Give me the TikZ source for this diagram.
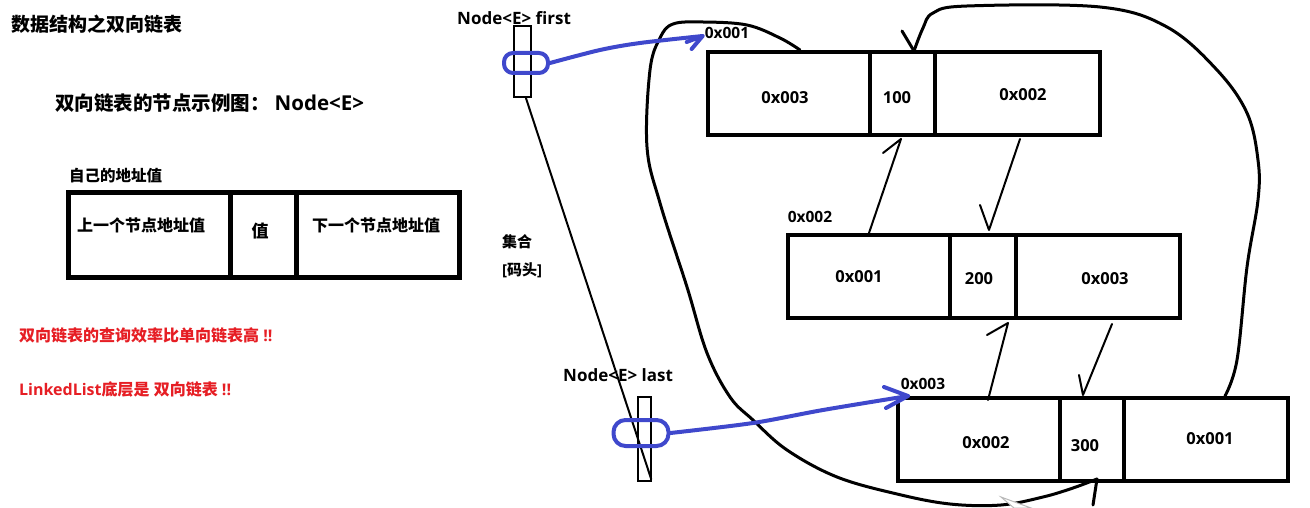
\documentclass[tikz,border=0pt]{standalone}
\usepackage{fontspec}
\setmainfont{Open Sans}
\newfontfamily\cjk{Noto Sans CJK SC}
\usetikzlibrary{calc}
\definecolor{inkblue}{RGB}{63,72,204}
\definecolor{inkred}{RGB}{230,30,36}
\newcommand\fsz[1]{\fontsize{#1}{#1}\selectfont}

\begin{document}
\begin{tikzpicture}[x=1pt,y=-1pt,
  cell/.style={draw, line width=4, inner sep=0, minimum height=83},
  bigcell/.style={draw, line width=5, inner sep=0, minimum height=84},
  ptr/.style={draw, line width=2.5, inner sep=0},
  lbl/.style={inner sep=0, font=\bfseries\fsz{16.5}},
  tag/.style={inner sep=0, font=\bfseries\fsz{15.5}},
  wire/.style={line width=2, line cap=round, line join=round},
  loopline/.style={line width=3, line cap=round, line join=round},
  bluepen/.style={draw=inkblue, line width=4, line cap=round, line join=round},
]
\useasboundingbox[fill=white] (0,0) rectangle (1310,508);

% ---- headings ----
\node[anchor=west, inner sep=0, font=\bfseries\fsz{19}] (title) at (11,24) {\cjk 数据结构之双向链表};
\node[anchor=west, inner sep=0, font=\bfseries\fsz{19.5}] (sub) at (55,103)
  {{\cjk 双向链表的节点示例图：}\hspace{5pt}{\fsz{20.5}Node<E>}};

% ---- node layout legend ----
\node[anchor=west, inner sep=0, font=\bfseries\fsz{15.5}] (self) at (69,176) {\cjk 自己的地址值};
\node[bigcell, minimum width=162] (ka) at (149,235) {};
\node[bigcell, minimum width=66]  (kb) at (263,235) {};
\node[bigcell, minimum width=163] (kc) at (377.5,235) {};
\node[anchor=west, inner sep=0, font=\bfseries\fsz{16}] (kta) at (77,225) {\cjk 上一个节点地址值};
\node[inner sep=0, font=\bfseries\fsz{17}] (ktb) at (260,231) {\cjk 值};
\node[anchor=west, inner sep=0, font=\bfseries\fsz{16}] (ktc) at (312,225) {\cjk 下一个节点地址值};

% ---- notes ----
\node[anchor=west, inner sep=0, text=inkred, font=\bfseries\fsz{16}] (note1) at (19,335)
  {{\cjk 双向链表的查询效率比单向链表高} !!};
\node[anchor=west, inner sep=0, text=inkred, font=\bfseries\fsz{16}] (note2) at (19,389)
  {LinkedList{\cjk 底层是} {\cjk 双向链表} !!};

% ---- head / tail references ----
\node[anchor=west, inner sep=0, font=\bfseries\fsz{17}] (firstlbl) at (457,18) {Node<E> first};
\node[ptr, minimum width=17, minimum height=71] (first) at (522.5,61.5) {};
\node[anchor=west, inner sep=0, font=\bfseries\fsz{15}] (coll) at (502,242) {\cjk 集合};
\node[anchor=west, inner sep=0, font=\bfseries\fsz{15}] (dock) at (502,270) {[{\cjk 码头}]};
\node[anchor=west, inner sep=0, font=\bfseries\fsz{17}] (lastlbl) at (563,375) {Node<E> last};
\node[ptr, minimum width=13, minimum height=84] (last) at (644.5,439) {};
\draw[wire] ([xshift=3.5]first.south) -- ([xshift=-1,yshift=3]last.south east);

% ---- list node 0x001 ----
\node[cell, minimum width=162] (n1a) at (789,93.5) {};
\node[cell, minimum width=65]  (n1b) at (902.5,93.5) {};
\node[cell, minimum width=165] (n1c) at (1017.5,93.5) {};
\node[tag] (a1) at (727,33) {0x001};
\node[lbl] at (785,98) {0x003};
\node[lbl] at (897,98) {100};
\node[lbl] at (1023,95) {0x002};

% ---- list node 0x002 ----
\node[cell, minimum width=162] (n2a) at (869,276.5) {};
\node[cell, minimum width=66]  (n2b) at (983,276.5) {};
\node[cell, minimum width=164] (n2c) at (1098,276.5) {};
\node[tag] (a2) at (810,217) {0x002};
\node[lbl] at (859,277) {0x001};
\node[lbl] at (979,279) {200};
\node[lbl] at (1105,279) {0x003};

% ---- list node 0x003 ----
\node[cell, minimum width=162] (n3a) at (979,439.5) {};
\node[cell, minimum width=64]  (n3b) at (1092,439.5) {};
\node[cell, minimum width=164] (n3c) at (1206,439.5) {};
\node[tag] (a3) at (923,384) {0x003};
\node[lbl] at (986,443) {0x002};
\node[lbl] at (1085,446) {300};
\node[lbl] at (1210,439) {0x001};

% ---- prev / next links between neighbours ----
\draw[wire] (n2a.north) -- ([xshift=-1.5,yshift=-2]n1b.south) -- ++(-18,14);
\draw[wire] ([xshift=2.5,yshift=-2]n1c.south) -- ([xshift=6,yshift=3]n2b.north) -- ++(-9,-25);
\draw[wire] ([xshift=9,yshift=-4]n3a.north) -- ([xshift=25,yshift=-3]n2b.south) -- ++(-21,12);
\draw[wire] ([xshift=14,yshift=-4]n2c.south) -- ([xshift=-9,yshift=1]n3b.north) -- ++(-4,-20);

% ---- wrap-around links ----
\draw[loopline] plot[smooth, tension=0.6] coordinates {([xshift=19]n3c.north) (1237,360) (1247,267) (1258,200) (1258,160) (1247,113) (1217,70) (1167,27) (1100,7) (967,6) (933,13) (923,28) ([xshift=11.5,yshift=-1]n1b.north)};
\draw[loopline] ([xshift=11.5,yshift=-1]n1b.north) -- ++(-12,-20);

\draw[loopline] plot[smooth, tension=0.6] coordinates {([xshift=11]n1a.north) (780,38) (747,25) (703,22) (673,24) (660,38) (650,70) (647,147) (660,203) (687,287) (707,353) (730,397) (753,420) (787,450) (837,477) (897,494) (950,504) (1001,505) (1043,497) (1073,488) ([xshift=5,yshift=4]n3b.south)};
\draw[loopline] ([xshift=5,yshift=4]n3b.south) -- ++(-4,26);

% ---- head / tail pointers ----
\node[bluepen, rounded corners=9, minimum width=44, minimum height=20, inner sep=0] (e1) at (526,63) {};
\draw[bluepen] plot[smooth, tension=0.5] coordinates {(e1.east) (600,50) (640,43) ([xshift=-2,yshift=-3]a1.west)};
\draw[bluepen] ([xshift=-18,yshift=-9]a1.west) -- ([xshift=-2,yshift=-3]a1.west) -- ([xshift=-13,yshift=-16]a1.west);

\node[bluepen, rounded corners=12, minimum width=55, minimum height=26, inner sep=0] (e2) at (641,433) {};
\draw[bluepen] plot[smooth, tension=0.5] coordinates {(e2.east) (753,423) (823,410) ([xshift=12]n3a.north west)};
\draw[bluepen] ([xshift=-12,yshift=9]n3a.north west) -- ([xshift=12]n3a.north west) -- ([xshift=-10,yshift=-12]n3a.north west);

% ---- pointer glyph at the lower edge ----
\draw[gray!55, line width=1, fill=white] (1001,497) -- (1031,508) -- (1014,508) -- cycle;
\end{tikzpicture}
\end{document}
